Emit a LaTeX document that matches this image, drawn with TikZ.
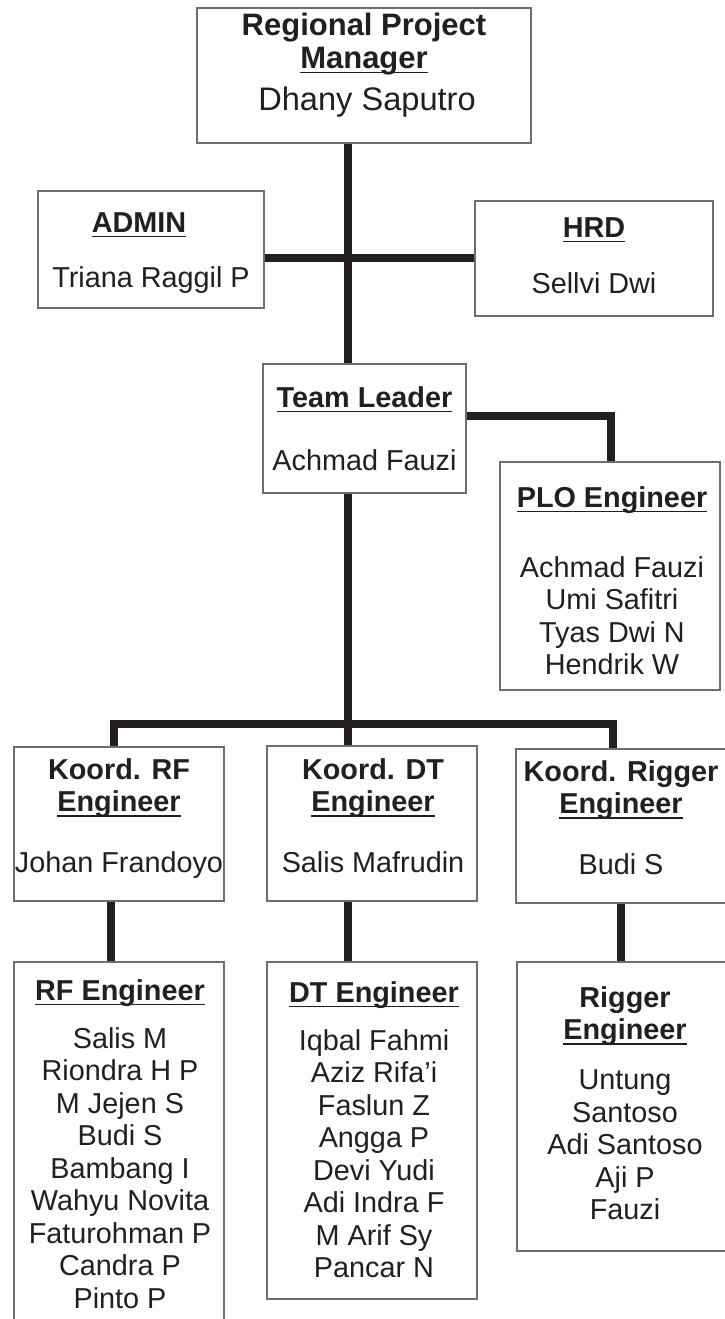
\documentclass[tikz,border=0pt]{standalone}
\usepackage{fontspec}
\setmainfont{Liberation Sans}
\usepackage{xcolor}
\usepackage{tikz}

\definecolor{ink}{RGB}{35,31,32}
\definecolor{boxgray}{RGB}{110,110,110}
\newcommand{\uln}[1]{\leavevmode\setbox0=\hbox{#1}\rlap{\rule[-5pt]{\wd0}{1.4pt}}\box0}

\tikzset{
  orgbox/.style={draw=boxgray, line width=1.3pt, fill=white, inner sep=0pt},
  orgtext/.style={anchor=north, align=center, inner sep=0pt, text=ink,
    font=\fontsize{28.8}{32.5}\selectfont},
  link/.style={draw=ink, line width=8.5pt}
}

\begin{document}
\begin{tikzpicture}[x=1pt, y=-1pt]
\useasboundingbox (0,0) rectangle (725,1319);
\clip (0,0) rectangle (725,1319);

% boxes
\node[orgbox, minimum width=334pt, minimum height=135pt] (rpm) at (364,75.5) {};
\node[orgbox, minimum width=226pt, minimum height=117pt] (admin) at (151,249.5) {};
\node[orgbox, minimum width=238pt, minimum height=115pt] (hrd) at (594,258.5) {};
\node[orgbox, minimum width=203pt, minimum height=129pt] (tl) at (364.5,428.5) {};
\node[orgbox, minimum width=220pt, minimum height=228pt] (plo) at (610,576) {};
\node[orgbox, minimum width=210pt, minimum height=154pt] (krf) at (119,824) {};
\node[orgbox, minimum width=210pt, minimum height=155pt] (kdt) at (372,823.5) {};
\node[orgbox, minimum width=216pt, minimum height=154pt] (krig) at (624,826) {};
\node[orgbox, minimum width=210pt, minimum height=373pt] (rfe) at (119,1148.5) {};
\node[orgbox, minimum width=210pt, minimum height=337pt] (dte) at (372,1130.5) {};
\node[orgbox, minimum width=218pt, minimum height=289pt] (rige) at (626,1106.5) {};

% texts
\node[orgtext, font=\fontsize{31}{33}\selectfont] (rpmtext) at (364,11.9)
  {\strut\textbf{Regional Project}\\ \uln{\textbf{Manager}}\\[9pt]{\fontsize{32.6}{33}\selectfont\hspace*{6pt}Dhany Saputro}};
\node[orgtext] (admintext) at (151,209.25)
  {\strut\uln{\textbf{ADMIN}}\hspace*{24pt}\\[22.5pt]Triana Raggil P};
\node[orgtext] (hrdtext) at (594,214.25)
  {\strut\uln{\textbf{HRD}}\\[23.5pt]Sellvi Dwi};
\node[orgtext] (tltext) at (364.5,384.25)
  {\strut\uln{\textbf{Team Leader}}\\[30.5pt]Achmad Fauzi};
\node[orgtext] (plotext) at (612,484.25)
  {\strut\uln{\textbf{PLO Engineer}}\\[37.5pt]Achmad Fauzi\\Umi Safitri\\Tyas Dwi N\\Hendrik W};
\node[orgtext] (krftext) at (119,756.25)
  {\strut\textbf{Koord. RF}\\ \uln{\textbf{Engineer}}\\[28pt]Johan Frandoyo};
\node[orgtext] (kdttext) at (373,756.25)
  {\strut\textbf{Koord. DT}\\ \uln{\textbf{Engineer}}\\[28pt]Salis Mafrudin};
\node[orgtext] (krigtext) at (621,758.25)
  {\strut\textbf{Koord. Rigger}\\ \uln{\textbf{Engineer}}\\[28pt]Budi S};
\node[orgtext] (rfetext) at (120,977.25)
  {\strut\uln{\textbf{RF Engineer}}\\[15.5pt]Salis M\\Riondra H P\\M Jejen S\\Budi S\\Bambang I\\Wahyu Novita\\Faturohman P\\Candra P\\Pinto P};
\node[orgtext] (dtetext) at (374,979.25)
  {\strut\uln{\textbf{DT Engineer}}\\[15.5pt]Iqbal Fahmi\\Aziz Rifa’i\\Faslun Z\\Angga P\\Devi Yudi\\Adi Indra F\\M Arif Sy\\Pancar N};
\node[orgtext] (rigetext) at (625,984.25)
  {\strut\textbf{Rigger}\\ \uln{\textbf{Engineer}}\\[17.5pt]Untung\\Santoso\\Adi Santoso\\Aji P\\Fauzi};

% connectors
\coordinate (bus) at (348,724);
\coordinate (midline) at (348,258);
\coordinate (plocorner) at (611,416);
\coordinate (rfdrop) at (114,724);
\coordinate (rigdrop) at (613,724);
\coordinate (rfcol) at (111,0);
\coordinate (dtcol) at (348,0);
\coordinate (rigcol) at (621,0);

\draw[link] (rpm.south -| bus) -- (tl.north -| bus);
\draw[link] (admin.east |- midline) -- (hrd.west |- midline);
\draw[link] (tl.east |- plocorner) -- (plocorner) -- (plo.north -| plocorner);
\draw[link] (tl.south -| bus) -- (bus);
\draw[link] (krf.north -| rfdrop) -- (rfdrop) -- (rigdrop) -- (krig.north -| rigdrop);
\draw[link] (bus) -- (kdt.north -| bus);
\draw[link] (krf.south -| rfcol) -- (rfe.north -| rfcol);
\draw[link] (kdt.south -| dtcol) -- (dte.north -| dtcol);
\draw[link] (krig.south -| rigcol) -- (rige.north -| rigcol);
\end{tikzpicture}
\end{document}
